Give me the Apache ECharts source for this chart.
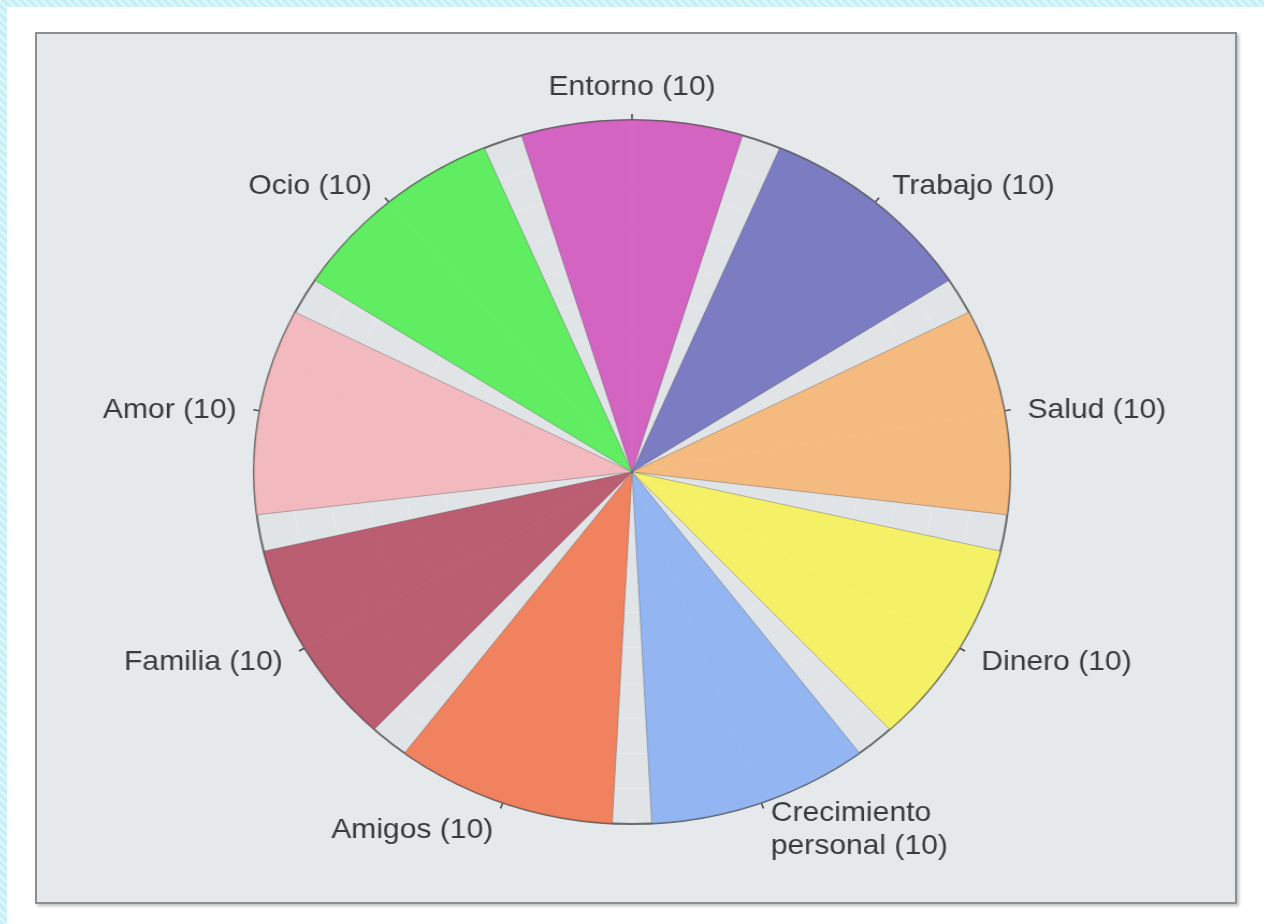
<!DOCTYPE html>
<html>
<head>
<meta charset="utf-8">
<script src="https://cdn.jsdelivr.net/npm/echarts@6/dist/echarts.min.js"></script>
<style>
  html, body { margin: 0; padding: 0; width: 1264px; height: 924px; overflow: hidden; background: #ffffff; }
  #stripTop { position: absolute; left: 0; top: 0; width: 1264px; height: 7px;
    background: repeating-linear-gradient(45deg, #c6eff5 0 3px, #dcf7fa 3px 6px); }
  #stripLeft { position: absolute; left: 0; top: 0; width: 7px; height: 924px;
    background: repeating-linear-gradient(45deg, #c6eff5 0 3px, #dcf7fa 3px 6px); }
  #frame { position: absolute; left: 35px; top: 32px; width: 1198px; height: 868px;
    background: #e6e9ec; border: 2px solid #8e8e8e; box-shadow: 2px 2px 3px rgba(0,0,0,0.25); }
  #chart { position: absolute; left: 82px; top: 33px; width: 1100px; height: 872px;
    transform: scaleX(1.074); transform-origin: 50% 50%; }
</style>
</head>
<body>
<div id="stripTop"></div>
<div id="stripLeft"></div>
<div id="frame"></div>
<div id="chart"></div>
<script>
const categories = ['Entorno', 'Trabajo', 'Salud', 'Dinero', 'Crecimiento personal', 'Amigos', 'Familia', 'Amor', 'Ocio'];
const values = [10, 10, 10, 10, 10, 10, 10, 10, 10];
const colors = ['#d35abd', '#7474bf', '#f5b776', '#f5f25c', '#8db2f2', '#f27b55', '#b95468', '#f3b6ba', '#57ee57'];
const radiusTicks = [0, 1, 2, 3, 4, 5, 6, 7, 8, 9, 10];

function labelText(i) {
  const name = categories[i];
  const label = name.length > 12 ? name.replace(' ', '\n') : name;
  return label + ' (' + values[i] + ')';
}

const chart = echarts.init(document.getElementById('chart'));
chart.setOption({
  animation: false,
  backgroundColor: 'transparent',
  polar: { center: ['50%', 439], radius: 352 },
  angleAxis: {
    type: 'category',
    data: categories,
    startAngle: 110,
    clockwise: true,
    z: 1,
    axisLine: { show: true, lineStyle: { color: '#6a6a6a', width: 2 } },
    axisTick: { show: true, alignWithLabel: true, length: 6, lineStyle: { color: '#444', width: 1.5 } },
    axisLabel: { show: false },
    splitLine: { show: true, lineStyle: { color: 'rgba(255,255,255,0.8)', width: 1.5 } }
  },
  radiusAxis: {
    type: 'value',
    min: radiusTicks[0],
    max: radiusTicks[radiusTicks.length - 1],
    interval: 1,
    z: 1,
    axisLine: { show: false },
    axisTick: { show: false },
    axisLabel: { show: false },
    splitLine: { show: true, lineStyle: { color: 'rgba(255,255,255,0.75)', width: 1 } },
    splitArea: { show: true, areaStyle: { color: ['#e1e4e7', '#e1e4e7'] } }
  },
  series: [{
    type: 'bar',
    coordinateSystem: 'polar',
    barCategoryGap: '15%',
    z: 2,
    data: values.map((v, i) => ({
      value: v,
      itemStyle: { color: colors[i], opacity: 0.93, borderColor: 'rgba(60,60,60,0.35)', borderWidth: 1 }
    }))
  }, {
    type: 'custom',
    coordinateSystem: 'polar',
    z: 5,
    silent: true,
    encode: { radius: 0, angle: 1 },
    data: values.map((v, i) => [v, i]),
    renderItem: function (params, api) {
      const cs = params.coordSys;
      const i = api.value(1);
      const p = api.coord([api.value(0), i]);
      const dx = p[0] - cs.cx, dy = p[1] - cs.cy;
      const len = Math.sqrt(dx * dx + dy * dy) || 1;
      const ux = dx / len, uy = dy / len;
      const R = cs.r;
      let align, vAlign, d, shiftY = 0;
      if (Math.abs(ux) < 0.3) {
        align = 'center'; vAlign = uy < 0 ? 'bottom' : 'top'; d = 16;
      } else {
        align = ux > 0 ? 'left' : 'right'; vAlign = 'middle'; d = 21 + 5 * Math.abs(uy); shiftY = 3;
      }
      return {
        type: 'text',
        x: cs.cx + ux * (R + d),
        y: cs.cy + uy * (R + d) + shiftY,
        style: {
          text: labelText(i),
          fill: '#3a3a3a',
          fontFamily: 'Liberation Sans',
          fontSize: 28,
          lineHeight: 33,
          align: align,
          verticalAlign: vAlign
        }
      };
    }
  }]
});
</script>
</body>
</html>
